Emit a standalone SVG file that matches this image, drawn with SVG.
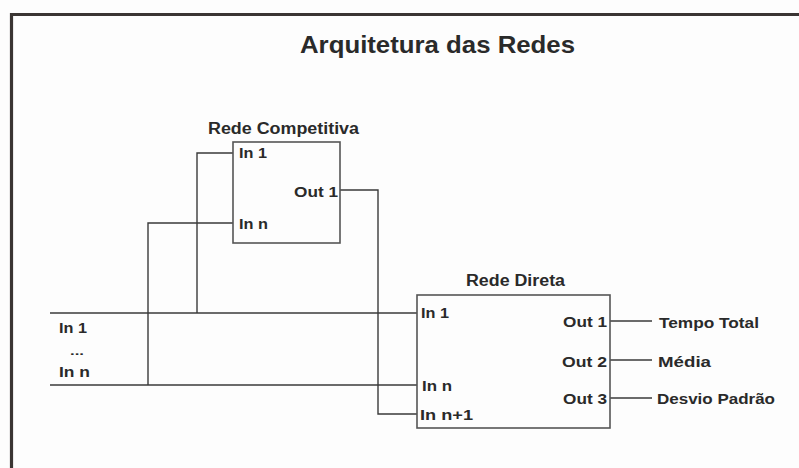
<svg xmlns="http://www.w3.org/2000/svg" width="799" height="468" viewBox="0 0 799 468">
<style>
text{font-family:"Liberation Sans",Arial,sans-serif;font-weight:bold;fill:#2a2a2a}
.t{font-size:16px}
.s{font-size:15px}
.box{fill:none;stroke:#555;stroke-width:1.6}
.w{fill:none;stroke:#3a3a3a;stroke-width:1.4}
</style>
<rect width="799" height="468" fill="#fdfdfd"/>
<g id="frame">
<path d="M11.5 468 V14.5 H799" fill="none" stroke="#3a3533" stroke-width="3.2"/>
</g>
<text x="300" y="53" font-size="24" textLength="275" lengthAdjust="spacingAndGlyphs">Arquitetura das Redes</text>
<g id="connectors">
<path class="w" d="M50 313 H417"/>
<path class="w" d="M50 385 H417"/>
<path class="w" d="M233 153 H197 V313"/>
<path class="w" d="M233 223 H148 V385"/>
<path class="w" d="M340 190 H378 V414 H417"/>
<path class="w" d="M610 321 H652"/>
<path class="w" d="M610 360 H652"/>
<path class="w" d="M610 398 H652"/>
</g>
<g id="inputs">
<text class="s" x="59" y="333" textLength="28" lengthAdjust="spacingAndGlyphs">In 1</text>
<text x="70" y="355" font-size="10" font-weight="normal" textLength="14" lengthAdjust="spacingAndGlyphs">...</text>
<text class="s" x="59" y="377" textLength="31" lengthAdjust="spacingAndGlyphs">In n</text>
</g>
<g id="rede-competitiva">
<text class="t" x="208" y="134" textLength="151" lengthAdjust="spacingAndGlyphs">Rede Competitiva</text>
<rect class="box" x="233" y="142" width="107" height="101"/>
<text class="s" x="239" y="158" textLength="28" lengthAdjust="spacingAndGlyphs">In 1</text>
<text class="s" x="294" y="197" textLength="44" lengthAdjust="spacingAndGlyphs">Out 1</text>
<text class="s" x="239" y="229" textLength="29" lengthAdjust="spacingAndGlyphs">In n</text>
</g>
<g id="rede-direta">
<text class="t" x="466" y="286" textLength="99" lengthAdjust="spacingAndGlyphs">Rede Direta</text>
<rect class="box" x="417" y="295" width="193" height="133"/>
<text class="s" x="421" y="318" textLength="28" lengthAdjust="spacingAndGlyphs">In 1</text>
<text class="s" x="422" y="391" textLength="30" lengthAdjust="spacingAndGlyphs">In n</text>
<text class="s" x="420" y="420" textLength="53" lengthAdjust="spacingAndGlyphs">In n+1</text>
<text class="s" x="563" y="327" textLength="44" lengthAdjust="spacingAndGlyphs">Out 1</text>
<text class="s" x="562" y="367" textLength="45" lengthAdjust="spacingAndGlyphs">Out 2</text>
<text class="s" x="563" y="404" textLength="44" lengthAdjust="spacingAndGlyphs">Out 3</text>
</g>
<g id="outputs">
<text class="s" x="659" y="328" textLength="100" lengthAdjust="spacingAndGlyphs">Tempo Total</text>
<text class="s" x="658" y="367" textLength="53" lengthAdjust="spacingAndGlyphs">Média</text>
<text class="s" x="657" y="404" textLength="118" lengthAdjust="spacingAndGlyphs">Desvio Padrão</text>
</g>
</svg>
